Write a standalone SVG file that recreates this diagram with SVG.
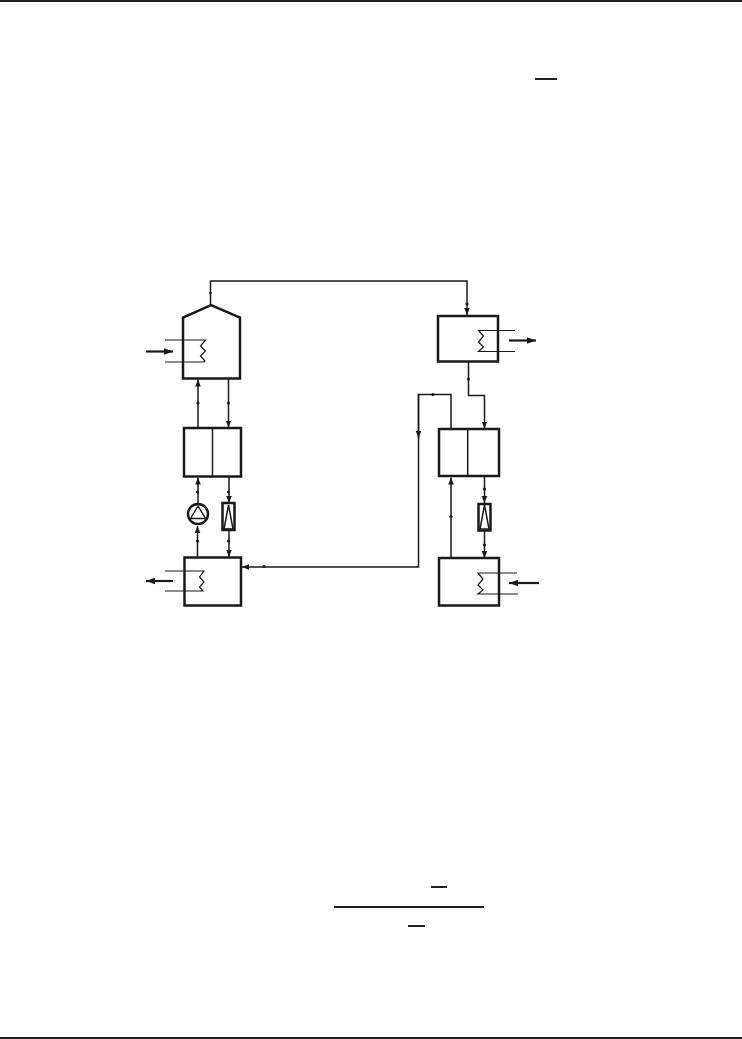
<svg xmlns="http://www.w3.org/2000/svg" width="742" height="1039" viewBox="0 0 742 1039">
<style>
.box{fill:none;stroke:#1a1a1a;stroke-width:2.500}
.solid{fill:#fff;stroke:#1a1a1a;stroke-width:2.500}
.thin{fill:none;stroke:#1a1a1a;stroke-width:1.200}
.line{fill:none;stroke:#1a1a1a;stroke-width:1.500}
.inner{fill:#fff;stroke:#1a1a1a;stroke-width:1.400}
.bold{fill:none;stroke:#1a1a1a;stroke-width:2.200}
.rule{fill:none;stroke:#231f20;stroke-width:2}
.dot{fill:#1a1a1a}
</style>
<defs>
<marker id="a" markerUnits="userSpaceOnUse" markerWidth="8" markerHeight="8" refX="7" refY="3" orient="auto"><path d="M0 0.200L7 3L0 5.800z" fill="#1a1a1a"/></marker>
<marker id="b" markerUnits="userSpaceOnUse" markerWidth="12" markerHeight="10" refX="9" refY="4" orient="auto"><path d="M0 0.700L9 4L0 7.300z" fill="#1a1a1a"/></marker>
</defs>
<rect width="742" height="1039" fill="#fff"/>
<g id="page-rules">
<path class="rule" d="M0 1H742"/>
<path class="rule" d="M0 1038H742"/>
<path class="rule" d="M535 79H557"/>
<path class="rule" d="M431 887H447"/>
<path class="rule" d="M334 907H484"/>
<path class="rule" d="M408 926H425"/>
</g>
<g id="connectors">
<path class="line" d="M210.500 305V281H467V315" marker-end="url(#a)"/>
<path class="line" d="M198 428V379.500" marker-end="url(#a)"/>
<path class="line" d="M228.500 379V427.500" marker-end="url(#a)"/>
<path class="line" d="M197.500 557V526" marker-end="url(#a)"/>
<path class="line" d="M198 504V477.500" marker-end="url(#a)"/>
<path class="line" d="M229 476V503" marker-end="url(#a)"/>
<path class="line" d="M229 530V557" marker-end="url(#a)"/>
<path class="line" d="M468.500 362V395.500H484.500V428.500" marker-end="url(#a)"/>
<path class="line" d="M451 428V394.500H418.500V567H242" marker-end="url(#a)"/>
<path class="line" d="M418.500 394.500V438" marker-end="url(#a)"/>
<path class="line" d="M451 558V477.500" marker-end="url(#a)"/>
<path class="line" d="M484.500 477V503" marker-end="url(#a)"/>
<path class="line" d="M484.500 530V558" marker-end="url(#a)"/>
<path class="bold" d="M146 351.500H173" marker-end="url(#b)"/>
<path class="bold" d="M173 581H146" marker-end="url(#b)"/>
<path class="bold" d="M509 340.500H536" marker-end="url(#b)"/>
<path class="bold" d="M539 583H509" marker-end="url(#b)"/>
<g class="dot">
<circle cx="198" cy="403" r="1.600"/><circle cx="228.500" cy="403" r="1.600"/>
<circle cx="197.500" cy="492" r="1.600"/><circle cx="197.500" cy="541" r="1.600"/>
<circle cx="228.500" cy="492" r="1.600"/><circle cx="228.500" cy="541" r="1.600"/>
<circle cx="264" cy="566.500" r="1.600"/><circle cx="210.500" cy="293" r="1.300"/>
<circle cx="467" cy="304" r="1.600"/><circle cx="468.500" cy="379" r="1.600"/>
<circle cx="433" cy="394.500" r="1.600"/><circle cx="451" cy="516.500" r="1.600"/>
<circle cx="484.500" cy="489" r="1.600"/><circle cx="484.500" cy="545" r="1.600"/>
</g>
</g>
<g id="evaporator-top-left">
<path class="box" stroke-linejoin="miter" d="M183 378.500V317.500L211 305L240 317.500V378.500Z"/>
<path class="thin" d="M165 340H205.500L200.500 346L205.500 351L200.500 356L205 361L204 362H165"/>
</g>
<g id="exchanger-left">
<rect class="box" x="184" y="428" width="57" height="48.500"/>
<path class="line" d="M212.500 428V476"/>
</g>
<g id="pump">
<circle class="solid" cx="198" cy="514" r="10"/>
<path class="inner" d="M198 506L190.500 518.500H205.500Z"/>
</g>
<g id="valve-left">
<rect class="solid" x="222.500" y="503" width="12" height="27"/>
<path class="line" d="M228.500 505L224 529H233Z"/>
</g>
<g id="absorber-bottom-left">
<rect class="box" x="184.500" y="557.500" width="56.500" height="48"/>
<path class="thin" d="M165 571H204L199.500 577L204 582L199.500 587L203 591H165"/>
</g>
<g id="condenser-top-right">
<rect class="box" x="438" y="316" width="60" height="45.500"/>
<path class="thin" d="M515 330.500H478.500L483.500 336L478.500 342L483.500 347L478.500 351.500H515"/>
</g>
<g id="exchanger-right">
<rect class="box" x="439" y="429" width="60" height="47"/>
<path class="line" d="M467.700 429V476"/>
</g>
<g id="valve-right">
<rect class="solid" x="478.500" y="504" width="12" height="26.500"/>
<path class="line" d="M484.500 505L480 529H489Z"/>
</g>
<g id="generator-bottom-right">
<rect class="box" x="439" y="558" width="60" height="47.500"/>
<path class="thin" d="M517 573H478L483 579L478 585L483 590L478 594H518"/>
</g>
</svg>
